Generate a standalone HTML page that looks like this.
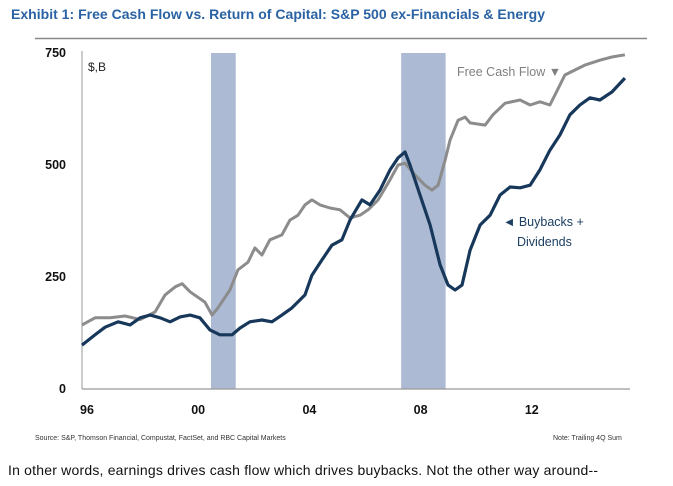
<!DOCTYPE html>
<html><head><meta charset="utf-8"><style>
body{margin:0;width:673px;height:486px;background:#fff;overflow:hidden;font-family:"Liberation Sans",sans-serif}
svg{position:absolute;left:0;top:0}
</style></head><body>
<svg width="673" height="486">
<text x="11" y="19" font-size="14" font-weight="bold" fill="#2a62a3" textLength="534">Exhibit 1: Free Cash Flow vs. Return of Capital: S&amp;P 500 ex-Financials &amp; Energy</text>
<line x1="35" y1="38.5" x2="647" y2="38.5" stroke="#888" stroke-width="1.5"/>
<g id="plot"></g>
<text x="88" y="71" font-size="12" fill="#222">$,B</text>
<text x="457" y="76" font-size="12.5" fill="#808080">Free Cash Flow ▼</text>
<text x="503" y="226" font-size="12.5" fill="#1c3f62">◄  Buybacks +</text>
<text x="517" y="246" font-size="12.5" fill="#1c3f62">Dividends</text>
<text x="35" y="440" font-size="7" fill="#333">Source: S&amp;P, Thomson Financial, Compustat, FactSet, and RBC Capital Markets</text>
<text x="553" y="440" font-size="7" fill="#333">Note: Trailing 4Q Sum</text>
<text x="8" y="475" font-size="14" fill="#111" textLength="590">In other words, earnings drives cash flow which drives buybacks. Not the other way around--</text>
</svg>
<script>
const yTicks=[0,250,500,750];
const xTicks=[1996,2000,2004,2008,2012];
const xTickLabels=["96","00","04","08","12"];
const recessions=[[2000.46,2001.35],[2007.3,2008.9]];
const fcfYears=[1995.82,1996.29,1996.83,1997.37,1997.91,1998.45,1998.81,1999.17,1999.42,1999.71,2000.24,2000.5,2000.71,2001.14,2001.43,2001.79,2002.04,2002.29,2002.58,2003.01,2003.3,2003.59,2003.84,2004.09,2004.38,2004.74,2005.1,2005.46,2005.82,2006.11,2006.47,2006.9,2007.19,2007.44,2007.8,2008.16,2008.41,2008.63,2008.88,2009.06,2009.35,2009.6,2009.78,2010.32,2010.6,2011.04,2011.58,2011.94,2012.29,2012.65,2012.83,2013.19,2013.55,2013.91,2014.45,2014.88,2015.35];
const fcfValues=[143,159,159,163,155,172,210,228,235,217,194,165,181,221,266,283,315,299,333,344,377,388,411,422,411,404,400,382,388,400,422,467,500,504,478,455,444,455,511,556,600,607,594,589,612,638,645,634,641,634,656,701,712,723,734,741,746];
const bbYears=[1995.82,1996.29,1996.65,1997.12,1997.55,1997.91,1998.27,1998.63,1998.99,1999.35,1999.71,2000.06,2000.42,2000.78,2001.22,2001.5,2001.86,2002.29,2002.65,2003.01,2003.37,2003.84,2004.09,2004.45,2004.81,2005.17,2005.46,2005.89,2006.18,2006.54,2006.9,2007.19,2007.44,2007.62,2007.98,2008.34,2008.7,2008.99,2009.24,2009.49,2009.78,2010.14,2010.5,2010.86,2011.22,2011.58,2011.94,2012.29,2012.65,2013.01,2013.37,2013.73,2014.09,2014.45,2014.88,2015.35];
const bbValues=[98,121,138,150,143,159,165,159,150,161,165,159,132,121,121,136,150,154,150,165,181,210,254,288,321,333,377,422,411,444,489,516,529,500,433,366,277,232,221,232,310,366,388,433,451,449,455,489,533,567,612,634,650,645,663,694];
const NS="http://www.w3.org/2000/svg";
const X=y=>87+(y-1996)*27.8;
const Y=v=>389-v*112/250;
const g=document.getElementById('plot');
function mk(t,a){const e=document.createElementNS(NS,t);for(const k in a)e.setAttribute(k,a[k]);g.appendChild(e);return e;}
recessions.forEach(r=>{
 const e=mk('rect',{x:X(r[0]),y:Y(750),width:X(r[1])-X(r[0]),height:Y(0)-Y(750),fill:'#adbad3'});
 
 
});
let ax=mk('line',{x1:82,y1:Y(750)-2,x2:82,y2:Y(0),stroke:'#999','stroke-width':1});


let bx=mk('line',{x1:82,y1:Y(0),x2:630,y2:Y(0),stroke:'#999','stroke-width':1.2});


yTicks.forEach(v=>{
 const t=mk('text',{x:66,y:Y(v)+4,'text-anchor':'end','font-size':12.5,'font-weight':'bold',fill:'#111'});t.textContent=v;
 
 
});
xTicks.forEach((yr,i)=>{
 const t=mk('text',{x:X(yr),y:414,'text-anchor':'middle','font-size':12.5,'font-weight':'bold',fill:'#111'});t.textContent=xTickLabels[i];
 
 
});
function line(xs,vs,col,w,name){
 const d=xs.map((x,i)=>(i?'L':'M')+X(x).toFixed(1)+','+Y(vs[i]).toFixed(1)).join('');
 const p=mk('path',{d:d,fill:'none',stroke:col,'stroke-width':w,'stroke-linejoin':'round'});
 
 
}
line(fcfYears,fcfValues,'#8c8c8c',3,'fcf-line');
line(bbYears,bbValues,'#17385a',3.2,'buybacks-dividends-line');
</script>
</body></html>
